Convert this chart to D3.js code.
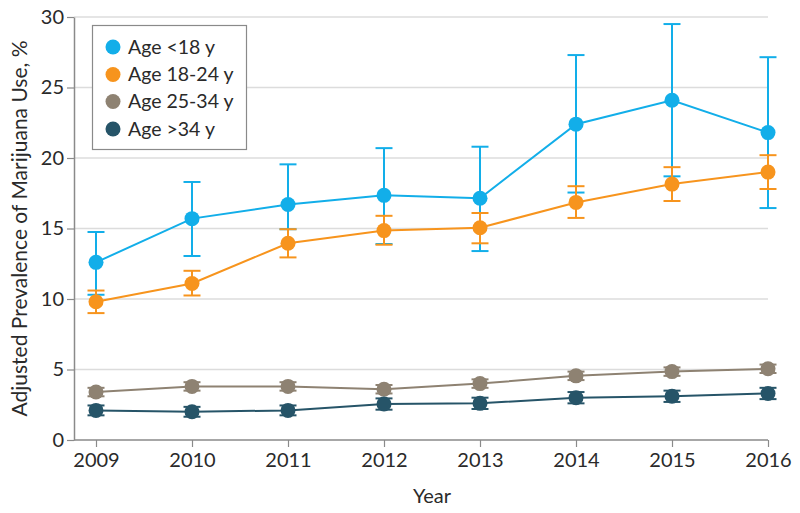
<!DOCTYPE html>
<html>
<head>
<meta charset="utf-8">
<script src="https://cdn.jsdelivr.net/npm/d3@7"></script>
<style>
  html, body { margin: 0; padding: 0; background: #fff; }
  svg { display: block; font-family: Lato, "Noto Sans", sans-serif; }
</style>
</head>
<body>
<svg id="chart" width="800" height="513"></svg>
<script>
const years = [2009, 2010, 2011, 2012, 2013, 2014, 2015, 2016];
const yTicks = [0, 5, 10, 15, 20, 25, 30];

const seriesNames = ["Age <18 y", "Age 18-24 y", "Age 25-34 y", "Age >34 y"];
const seriesColors = ["#12aee9", "#f7941d", "#8e8272", "#265468"];

const under18 = [12.6, 15.7, 16.7, 17.35, 17.15, 22.4, 24.1, 21.8];
const under18Lo = [10.3, 13.05, 14.95, 13.9, 13.4, 17.55, 18.7, 16.45];
const under18Hi = [14.75, 18.3, 19.55, 20.7, 20.8, 27.3, 29.5, 27.15];

const age18to24 = [9.8, 11.1, 13.95, 14.85, 15.05, 16.85, 18.15, 19.0];
const age18to24Lo = [9.0, 10.25, 12.95, 13.85, 13.95, 15.75, 16.95, 17.8];
const age18to24Hi = [10.6, 12.0, 14.95, 15.9, 16.1, 18.0, 19.35, 20.2];

const age25to34 = [3.4, 3.8, 3.8, 3.6, 4.0, 4.55, 4.85, 5.05];
const age25to34Lo = [3.1, 3.5, 3.5, 3.3, 3.7, 4.25, 4.55, 4.75];
const age25to34Hi = [3.7, 4.1, 4.1, 3.9, 4.3, 4.85, 5.15, 5.35];

const over34 = [2.1, 2.0, 2.1, 2.55, 2.6, 3.0, 3.1, 3.3];
const over34Lo = [1.75, 1.65, 1.75, 2.15, 2.2, 2.6, 2.7, 2.9];
const over34Hi = [2.45, 2.35, 2.45, 2.95, 3.0, 3.4, 3.5, 3.7];

const seriesValues = [under18, age18to24, age25to34, over34];
const seriesLo = [under18Lo, age18to24Lo, age25to34Lo, over34Lo];
const seriesHi = [under18Hi, age18to24Hi, age25to34Hi, over34Hi];

const series = seriesNames.map((name, i) => ({
  name, color: seriesColors[i],
  points: years.map((yr, j) => ({ year: yr, v: seriesValues[i][j], lo: seriesLo[i][j], hi: seriesHi[i][j] }))
}));

const svg = d3.select("#chart");
const axisLeftX = 74, plotRight = 768, plotTop = 17, plotBottom = 440;
const firstYearX = 96;

const x = d3.scaleLinear()
  .domain([2009, 2016])
  .range([firstYearX, plotRight]);
const y = d3.scaleLinear().domain([0, 30]).range([plotBottom, plotTop]);

const textColor = "#2a2a2a";
const axisColor = "#8a8a8a";

// gridlines
svg.append("g").selectAll("line").data(yTicks.filter(d => d > 0)).join("line")
  .attr("x1", axisLeftX).attr("x2", plotRight)
  .attr("y1", d => y(d)).attr("y2", d => y(d))
  .attr("stroke", "#dcdcdc").attr("stroke-width", 1.5);

// y axis
const yAxis = svg.append("g").attr("transform", `translate(${axisLeftX},0)`)
  .call(d3.axisLeft(y).tickValues(yTicks).tickSize(7).tickPadding(3).tickSizeOuter(0));
yAxis.select(".domain").attr("stroke", axisColor).attr("stroke-width", 1.5);
yAxis.selectAll(".tick line").attr("stroke", axisColor).attr("stroke-width", 1.2);
yAxis.selectAll(".tick text").attr("fill", textColor).style("font-size", "20px")
  .style("font-family", "Lato, sans-serif");

// x axis
const xAxisG = svg.append("g").attr("transform", `translate(0,${plotBottom})`)
  .call(d3.axisBottom(x).tickValues(years).tickFormat(d3.format("d")).tickSize(7).tickPadding(6).tickSizeOuter(0));
xAxisG.select(".domain").remove();
xAxisG.append("line").attr("x1", axisLeftX).attr("x2", plotRight).attr("y1", 0).attr("y2", 0)
  .attr("stroke", axisColor).attr("stroke-width", 1.5);
xAxisG.selectAll(".tick line").attr("stroke", axisColor).attr("stroke-width", 1.2);
xAxisG.selectAll(".tick text").attr("fill", textColor).style("font-size", "20px")
  .style("font-family", "Lato, sans-serif");

// axis titles
svg.append("text")
  .attr("transform", `translate(27,${(plotTop + plotBottom) / 2}) rotate(-90)`)
  .attr("text-anchor", "middle").attr("fill", textColor)
  .style("font-size", "21px")
  .text("Adjusted Prevalence of Marijuana Use, %");

svg.append("text")
  .attr("x", 432).attr("y", 503).attr("text-anchor", "middle").attr("fill", textColor)
  .style("font-size", "20px")
  .text("Year");

// series
const line = d3.line().x(d => x(d.year)).y(d => y(d.v));
const capHalf = 8.5;

series.forEach(s => {
  const g = svg.append("g");
  g.append("path").datum(s.points).attr("d", line)
    .attr("fill", "none").attr("stroke", s.color).attr("stroke-width", 2);
  const eb = g.selectAll("g.eb").data(s.points).join("g").attr("class", "eb");
  eb.append("line").attr("x1", d => x(d.year)).attr("x2", d => x(d.year))
    .attr("y1", d => y(d.lo)).attr("y2", d => y(d.hi))
    .attr("stroke", s.color).attr("stroke-width", 2);
  eb.append("line").attr("x1", d => x(d.year) - capHalf).attr("x2", d => x(d.year) + capHalf)
    .attr("y1", d => y(d.hi)).attr("y2", d => y(d.hi))
    .attr("stroke", s.color).attr("stroke-width", 2);
  eb.append("line").attr("x1", d => x(d.year) - capHalf).attr("x2", d => x(d.year) + capHalf)
    .attr("y1", d => y(d.lo)).attr("y2", d => y(d.lo))
    .attr("stroke", s.color).attr("stroke-width", 2);
  g.selectAll("circle").data(s.points).join("circle")
    .attr("cx", d => x(d.year)).attr("cy", d => y(d.v)).attr("r", 7.5)
    .attr("fill", s.color);
});

// legend
const legend = svg.append("g");
legend.append("rect").attr("x", 92.5).attr("y", 25.5).attr("width", 154).attr("height", 124)
  .attr("fill", "#fff").attr("stroke", "#8a8a8a").attr("stroke-width", 1.2);
const rowY = [47, 74.5, 101.5, 129];
const items = legend.selectAll("g.item").data(series).join("g").attr("class", "item")
  .attr("transform", (d, i) => `translate(0,${rowY[i]})`);
items.append("circle").attr("cx", 113).attr("cy", 0).attr("r", 7.5).attr("fill", d => d.color);
items.append("text").attr("x", 128).attr("y", 0).attr("dy", "0.35em")
  .attr("fill", textColor).style("font-size", "19.5px").text(d => d.name);
</script>
</body>
</html>
